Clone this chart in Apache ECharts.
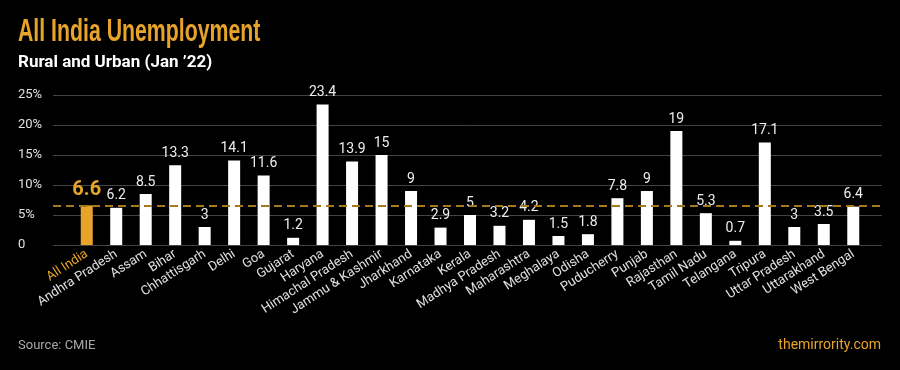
<!DOCTYPE html>
<html><head><meta charset="utf-8">
<script src="https://cdn.jsdelivr.net/npm/echarts@6/dist/echarts.min.js"></script>
<style>html,body{margin:0;padding:0;background:#000;}#c{width:900px;height:370px;}</style>
</head><body><div id="c"></div>
<script>
const categories = ["All India","Andhra Pradesh","Assam","Bihar","Chhattisgarh","Delhi","Goa","Gujarat","Haryana","Himachal Pradesh","Jammu & Kashmir","Jharkhand","Karnataka","Kerala","Madhya Pradesh","Maharashtra","Meghalaya","Odisha","Puducherry","Punjab","Rajasthan","Tamil Nadu","Telangana","Tripura","Uttar Pradesh","Uttarakhand","West Bengal"];
const values = [6.6,6.2,8.5,13.3,3,14.1,11.6,1.2,23.4,13.9,15,9,2.9,5,3.2,4.2,1.5,1.8,7.8,9,19,5.3,0.7,17.1,3,3.5,6.4];
const yTicks = [0,5,10,15,20,25];

const GOLD = '#e8a42a';
const chart = echarts.init(document.getElementById('c'));
chart.setOption({
  backgroundColor: '#000',
  animation: false,
  graphic: [
    {type:'text', x:18, y:16, scaleX:0.665, style:{text:'All India Unemployment', fill:GOLD, font:'bold 32px "Liberation Sans"'}},
    {type:'text', x:18, y:54, style:{text:'Rural and Urban (Jan \u201922)', fill:'#fff', font:'bold 17px Roboto'}},
    {type:'text', x:18, y:339, style:{text:'Source: CMIE', fill:'#a8a8a8', font:'13px Roboto'}},
    {type:'text', right:19, y:338, style:{text:'themirrority.com', fill:GOLD, font:'14px Roboto'}}
  ],
  grid: [
    {left:53, right:18, top:95, bottom:125},
    {left:72, right:32, top:95, bottom:125}
  ],
  xAxis: [
    {type:'value', gridIndex:0, min:0, max:1, show:false},
    {type:'category', gridIndex:1, data:categories, axisLine:{show:false}, axisTick:{show:false},
     axisLabel:{interval:0, rotate:33, margin:8, color:'#e0e0e0', fontSize:13, fontFamily:'Roboto',
       formatter:(v,i)=> i===0 ? '{g|'+v+'}' : v,
       rich:{g:{color:GOLD, fontSize:13, fontFamily:'Roboto'}}}}
  ],
  yAxis: [
    {type:'value', gridIndex:0, min:yTicks[0], max:yTicks[yTicks.length-1], interval:5,
     axisLine:{show:false}, axisTick:{show:false},
     splitLine:{lineStyle:{color:'#444', width:1}},
     axisLabel:{align:'left', margin:35, color:'#e0e0e0', fontSize:13, fontFamily:'Roboto',
       formatter:v=> v===0 ? '0' : v+'%'}},
    {type:'value', gridIndex:1, min:yTicks[0], max:yTicks[yTicks.length-1], show:false, splitLine:{show:false}}
  ],
  series: [
    {type:'line', xAxisIndex:0, yAxisIndex:0, data:[], silent:true,
     markLine:{symbol:'none', silent:true, label:{show:false},
       lineStyle:{color:'#a67a1c', type:[8,5], width:2},
       data:[{yAxis: values[0]}]}},
    {type:'bar', xAxisIndex:1, yAxisIndex:1, barWidth:12,
     data: values.map((v,i)=> i===0 ? {value:v, itemStyle:{color:GOLD},
        label:{color:GOLD, fontSize:20, fontWeight:'bold', distance:5}} : {value:v}),
     itemStyle:{color:'#fff'},
     label:{show:true, position:'top', distance:5, color:'#eee', fontSize:14, fontFamily:'Roboto'}}
  ]
});
</script></body></html>
